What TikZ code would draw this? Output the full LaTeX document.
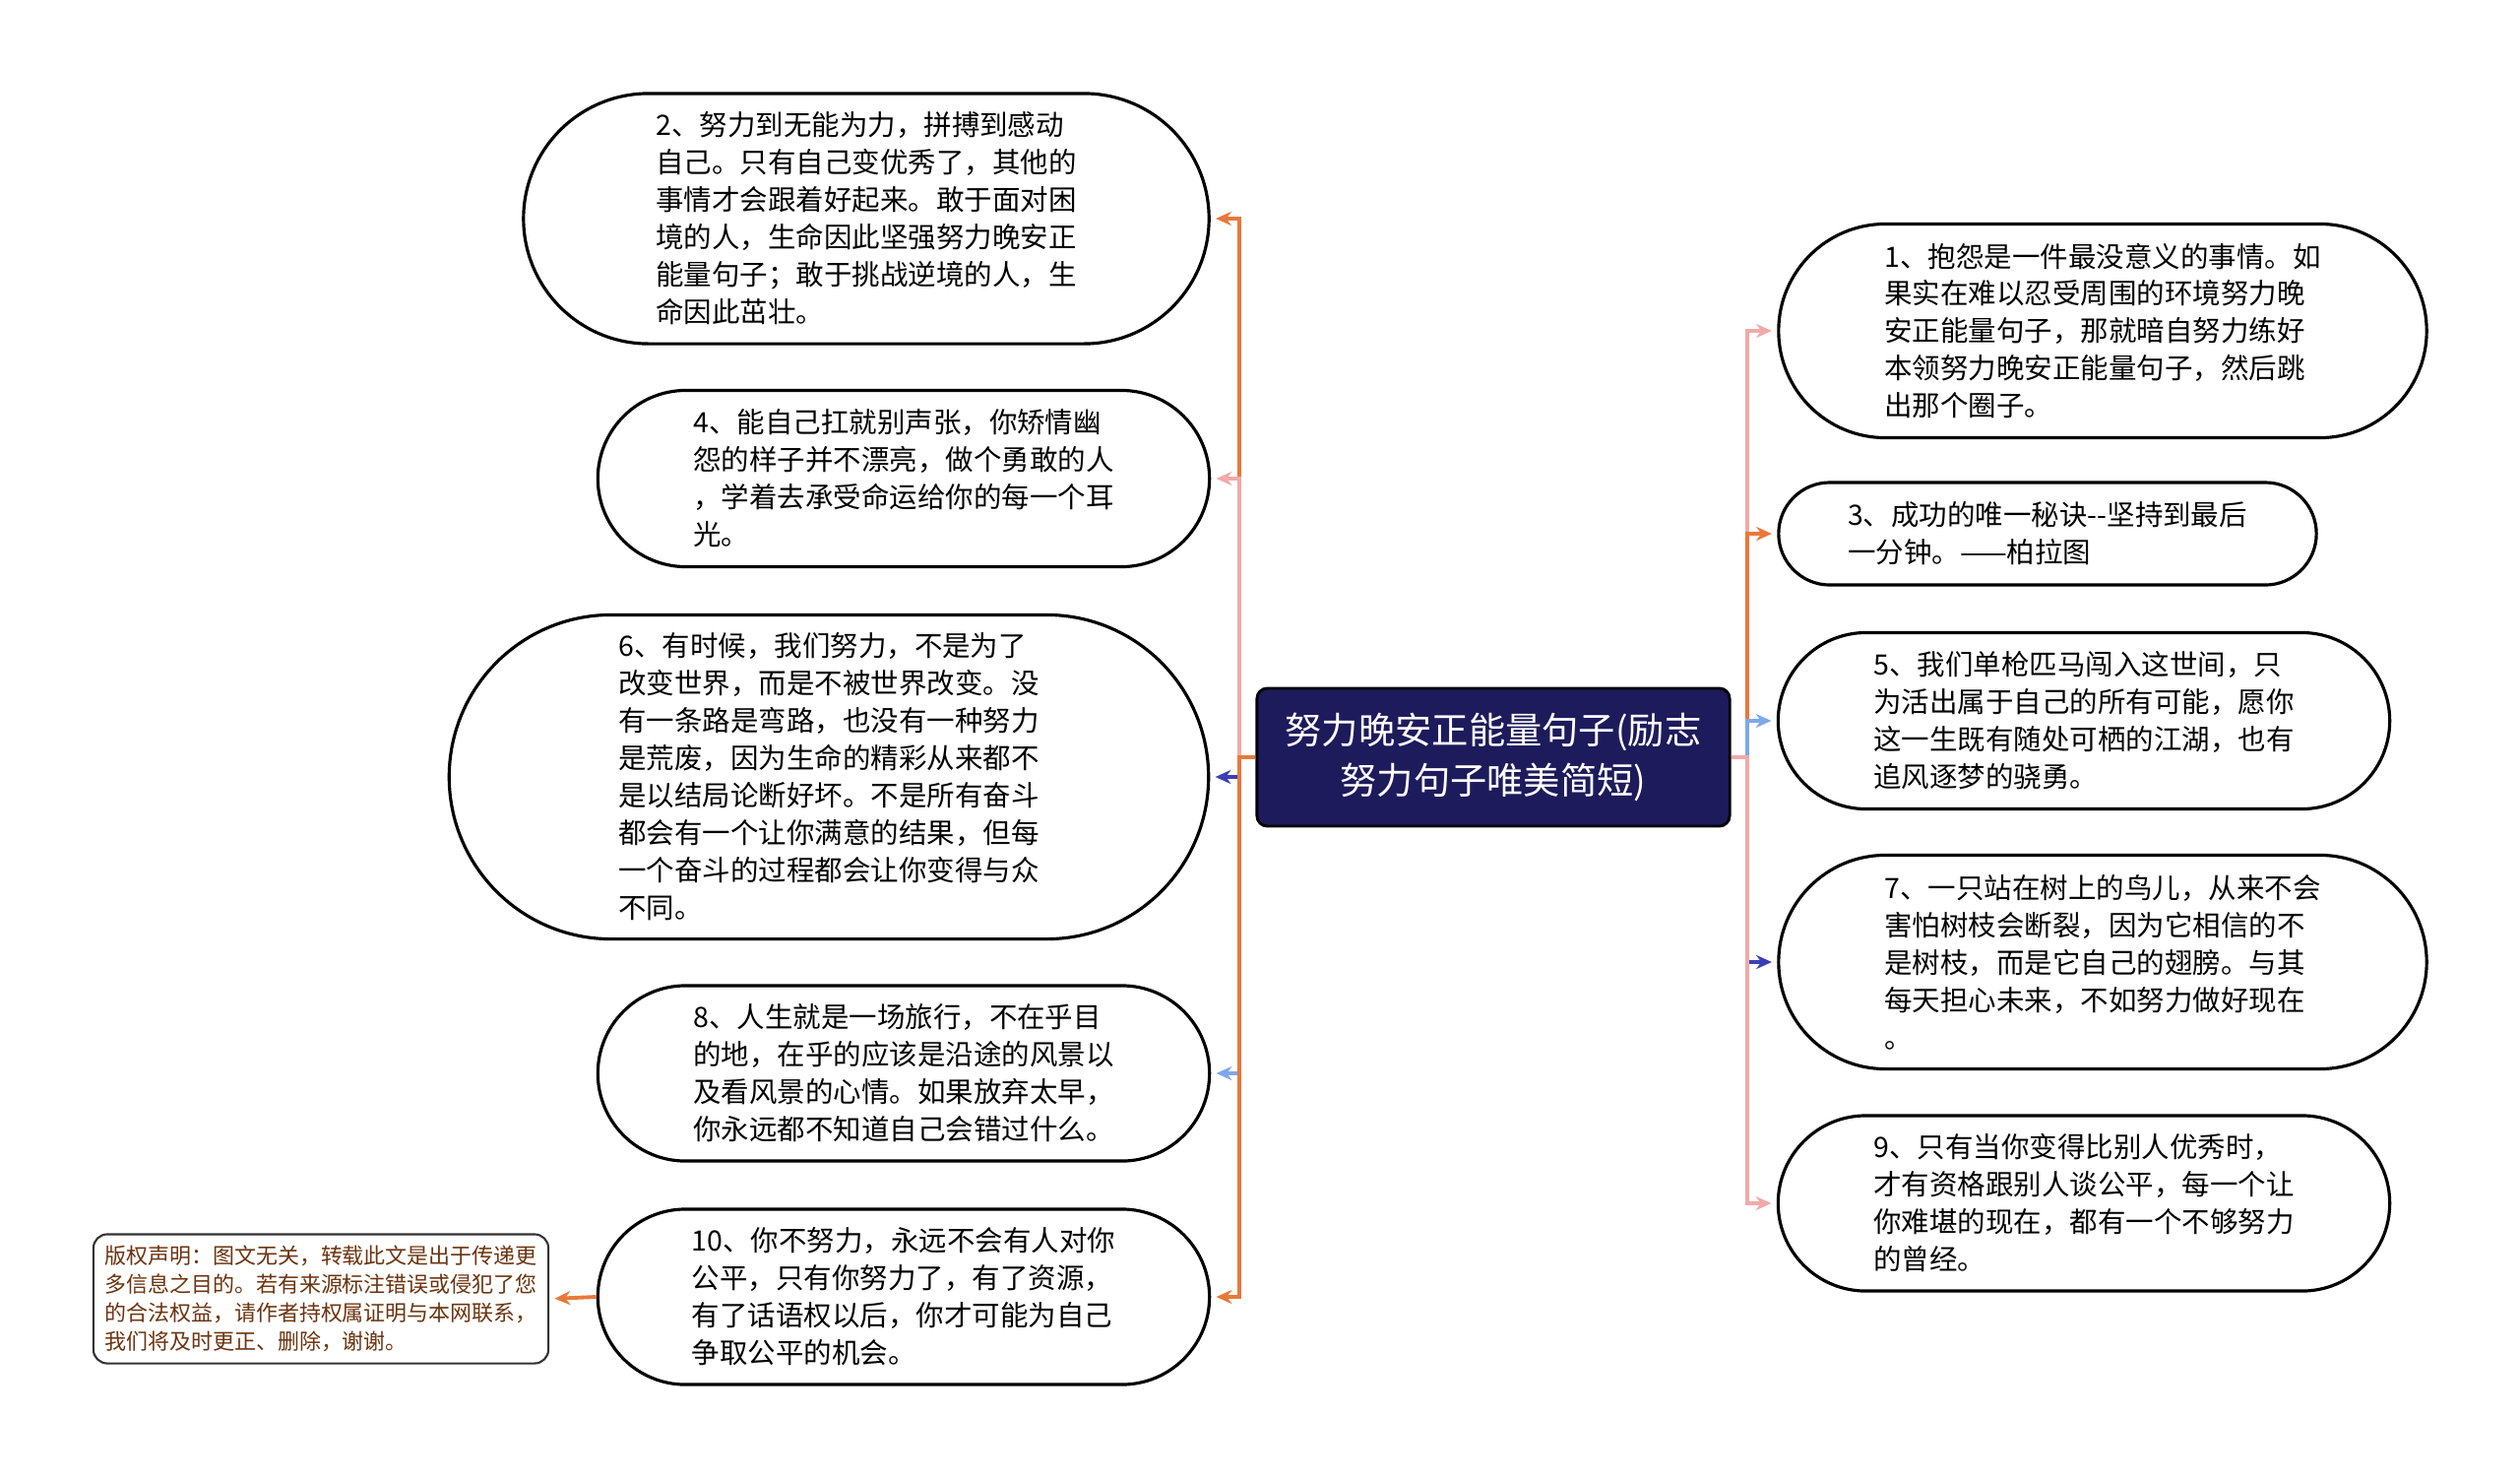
\documentclass[tikz,border=0pt]{standalone}
\usepackage{fontspec}
\setmainfont{Noto Sans CJK SC}
\definecolor{topicnavy}{HTML}{1D1B5B}
\definecolor{linkorange}{HTML}{E8793B}
\definecolor{linkpink}{HTML}{F2A9A9}
\definecolor{linkblue}{HTML}{3B3FB5}
\definecolor{linksky}{HTML}{7FA8EA}
\definecolor{notebrown}{HTML}{6B3410}
\usetikzlibrary{arrows.meta,shapes.misc}
\tikzset{
	>={Stealth[length=4.5pt,width=4pt]},
	topic/.style={
		rectangle,
		rounded corners=3pt,
		fill=topicnavy,
		draw=black, line width=0.8pt,
		text=white,
		align=center,
		font=\fontsize{10.6}{14.4}\selectfont,
		minimum width=4.8cm,
		minimum height=1.4cm},
	pill/.style={
		rounded rectangle,
		fill=white,
		draw=black, line width=0.9pt,
		inner sep=0pt,
		text=black,
		align=left,
		font=\fontsize{8.1}{10.8}\selectfont},
	note/.style={
		rectangle,
		rounded corners=4pt,
		fill=white,
		draw=black!80, line width=0.6pt,
		inner sep=0pt,
		text=notebrown,
		align=left,
		font=\fontsize{6.25}{8.2}\selectfont},
	link/.style={draw, line width=1.1pt, ->, shorten >=1.5pt},
}

\begin{document}
\begin{tikzpicture}[x=0.01cm,y=-0.01cm]
\fill[white] (0,0) rectangle (2560,1502);
\useasboundingbox (0,0) rectangle (2560,1502);

\node[topic] (ctr) at (1517,769) {努力晚安正能量句子(励志\\努力句子唯美简短)};
\coordinate (lbus) at (1259,769);
\coordinate (rbus) at (1775,769);

% left side
\node[pill, minimum width=6.96cm, minimum height=2.54cm] (n2) at (880,222)
	{2、努力到无能为力，拼搏到感动\\自己。只有自己变优秀了，其他的\\事情才会跟着好起来。敢于面对困\\境的人，生命因此坚强努力晚安正\\能量句子；敢于挑战逆境的人，生\\命因此茁壮。};
\node[pill, minimum width=6.21cm, minimum height=1.79cm] (n4) at (918,486)
	{4、能自己扛就别声张，你矫情幽\\怨的样子并不漂亮，做个勇敢的人\\，学着去承受命运给你的每一个耳\\光。};
\node[pill, minimum width=7.71cm, minimum height=3.29cm] (n6) at (842,789)
	{6、有时候，我们努力，不是为了\\改变世界，而是不被世界改变。没\\有一条路是弯路，也没有一种努力\\是荒废，因为生命的精彩从来都不\\是以结局论断好坏。不是所有奋斗\\都会有一个让你满意的结果，但每\\一个奋斗的过程都会让你变得与众\\不同。};
\node[pill, minimum width=6.21cm, minimum height=1.78cm] (n8) at (918,1090)
	{8、人生就是一场旅行，不在乎目\\的地，在乎的应该是沿途的风景以\\及看风景的心情。如果放弃太早，\\你永远都不知道自己会错过什么。};
\node[pill, minimum width=6.21cm, minimum height=1.78cm] (n10) at (918,1317)
	{10、你不努力，永远不会有人对你\\公平，只有你努力了，有了资源，\\有了话语权以后，你才可能为自己\\争取公平的机会。};
\node[note, minimum width=4.62cm, minimum height=1.31cm] (note) at (326,1319)
	{版权声明：图文无关，转载此文是出于传递更\\多信息之目的。若有来源标注错误或侵犯了您\\的合法权益，请作者持权属证明与本网联系，\\我们将及时更正、删除，谢谢。};

% right side
\node[pill, minimum width=6.58cm, minimum height=2.17cm] (n1) at (2136,336)
	{1、抱怨是一件最没意义的事情。如\\果实在难以忍受周围的环境努力晚\\安正能量句子，那就暗自努力练好\\本领努力晚安正能量句子，然后跳\\出那个圈子。};
\node[pill, minimum width=5.46cm, minimum height=1.04cm] (n3) at (2080,542)
	{3、成功的唯一秘诀-{}-坚持到最后\\一分钟。——柏拉图};
\node[pill, minimum width=6.21cm, minimum height=1.79cm] (n5) at (2117,732)
	{5、我们单枪匹马闯入这世间，只\\为活出属于自己的所有可能，愿你\\这一生既有随处可栖的江湖，也有\\追风逐梦的骁勇。};
\node[pill, minimum width=6.58cm, minimum height=2.17cm] (n7) at (2136,977)
	{7、一只站在树上的鸟儿，从来不会\\害怕树枝会断裂，因为它相信的不\\是树枝，而是它自己的翅膀。与其\\每天担心未来，不如努力做好现在\\。};
\node[pill, minimum width=6.21cm, minimum height=1.78cm] (n9) at (2117,1222)
	{9、只有当你变得比别人优秀时，\\才有资格跟别人谈公平，每一个让\\你难堪的现在，都有一个不够努力\\的曾经。};

% connectors
\foreach \n/\c in {n2/linkorange,n4/linkpink,n6/linkblue,n8/linksky,n10/linkorange}
	\draw[link, \c] (ctr.west) -- (lbus) |- (\n.east);
\foreach \n/\c in {n1/linkpink,n3/linkorange,n5/linksky,n7/linkblue,n9/linkpink}
	\draw[link, \c] (ctr.east) -- (rbus) |- (\n.west);
\draw[link, linkorange] (n10.west) -- (note.east);
\end{tikzpicture}
\end{document}
